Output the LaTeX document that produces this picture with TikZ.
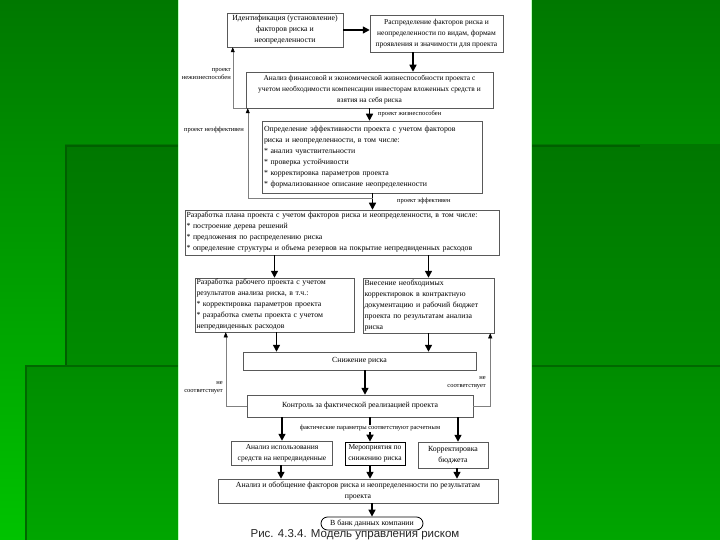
\documentclass[tikz,border=0pt]{standalone}
\usepackage{fontspec}
\setmainfont{Liberation Serif}
\newfontfamily\capfont{Liberation Sans}
\usetikzlibrary{arrows.meta}
\definecolor{bgdark}{RGB}{0,120,0}
\definecolor{bgmid}{RGB}{0,140,0}
\definecolor{bglight}{RGB}{0,195,0}
\definecolor{bgedge}{RGB}{0,95,0}
\begin{document}
\begin{tikzpicture}[x=1pt,y=-1pt,
		box/.style={draw=gray!70!black,line width=.5pt,inner xsep=1.5pt,inner ysep=1pt,font=\fontsize{7.8}{11}\selectfont},
		flow/.style={-{Triangle[length=7pt,width=7pt]},line width=1.5pt},
		back/.style={-{Triangle[length=5pt,width=4pt,color=black]},draw=gray,line width=.5pt},
		note/.style={font=\fontsize{6.5}{8}\selectfont,inner sep=1pt}]
	\useasboundingbox (0,0) rectangle (720,540);
	\shade[top color=bgdark,bottom color=bglight] (0,0) rectangle (720,540);
	\shade[top color=bgmid!85!black,bottom color=bglight!80!black] (65,145) rectangle (720,540);
	\draw[bgedge,line width=2pt] (66,540)--(66,146)--(640,146);
	\shade[top color=bgmid,bottom color=bglight!85!black] (25,365) rectangle (720,540);
	\draw[bgedge!80!bgmid,line width=1.5pt] (26,540)--(26,366)--(720,366);
	\fill[white] (178,0) rectangle (532,540);
	\draw[green!25!white,line width=1.5pt] (178.5,0)--(178.5,540) (531.5,0)--(531.5,540);

	\node[box,minimum width=116pt,minimum height=34pt,align=center] (ident) at (285,30) {Идентификация (установление)\\факторов риска и\\неопределенности};
	\node[box,minimum width=133pt,minimum height=37pt,align=center,font=\fontsize{7.5}{11}\selectfont] (distr) at (436.5,33.5) {Распределение факторов риска и\\неопределенности по видам, формам\\проявления и значимости для проекта};
	\node[box,minimum width=247pt,minimum height=36pt,align=center,font=\fontsize{7.4}{11}\selectfont] (viab) at (369.5,90) {Анализ финансовой и экономической жизнеспособности проекта с\\учетом необходимости компенсации инвесторам вложенных средств и\\взятия на себя риска};
	\node[box,text width=217pt,minimum height=72pt,align=left] (effic) at (372.5,157) {Определение эффективности проекта с учетом факторов\\риска и неопределенности, в том числе:\\{}* анализ чувствительности\\{}* проверка устойчивости\\{}* корректировка параметров проекта\\{}* формализованное описание неопределенности};
	\node[box,text width=311pt,minimum height=45pt,align=left] (plan) at (342,232.5) {Разработка плана проекта с учетом факторов риска и неопределенности, в том числе:\\{}* построение дерева решений\\{}* предложения по распределению риска\\{}* определение структуры и объема резервов на покрытие непредвиденных расходов};
	\node[box,text width=156pt,minimum height=54pt,align=left] (work) at (274.5,305) {Разработка рабочего проекта с учетом\\результатов анализа риска, в т.ч.:\\{}* корректировка параметров проекта\\{}* разработка сметы проекта с учетом\\непредвиденных расходов};
	\node[box,text width=128pt,minimum height=55pt,align=left] (contr) at (428.5,305.5) {Внесение необходимых\\корректировок в контрактную\\документацию и рабочий бюджет\\проекта по результатам анализа\\риска};
	\node[box,minimum width=233pt,minimum height=18pt,align=center] (reduce) at (359.5,361) {Снижение риска};
	\node[box,minimum width=226pt,minimum height=22pt,align=center] (monitor) at (360,406) {Контроль за фактической реализацией проекта};
	\node[box,minimum width=101pt,minimum height=24pt,align=center,font=\fontsize{7.5}{11}\selectfont] (reserve) at (282,453) {Анализ использования\\средств на непредвиденные};
	\node[box,draw=black,line width=.7pt,minimum width=60pt,minimum height=23pt,align=center,inner xsep=.5pt,font=\fontsize{7.5}{11}\selectfont] (measure) at (375,453.5) {Мероприятия по\\снижению риска};
	\node[box,minimum width=70pt,minimum height=26pt,align=center] (budget) at (453,455) {Корректировка\\бюджета};
	\node[box,minimum width=280pt,minimum height=24pt,align=center] (summary) at (358,491) {Анализ и обобщение факторов риска и неопределенности по результатам\\проекта};
	\node[box,draw=black,line width=.8pt,rounded corners=6.5pt,minimum width=102pt,minimum height=13pt,align=center] (bank) at (372,523.5) {В банк данных компании};
	\node[font=\capfont\fontsize{11.5}{13}\selectfont,text=black!85,anchor=base,inner sep=0pt] (cap) at (355,537.5) {Рис. 4.3.4. Модель управления риском};

	\draw[flow] (ident.east)--(ident.east-|distr.west);
	\draw[flow] ([xshift=-23.5pt]distr.south)--([xshift=-23.5pt]distr.south|-viab.north);
	\draw[flow] (viab.south)--(viab.south|-effic.north);
	\draw[flow] (effic.south)--(effic.south|-plan.north);
	\draw[flow] (work.north|-plan.south)--(work.north);
	\draw[flow] (contr.north|-plan.south)--(contr.north);
	\draw[flow] ([xshift=2pt]work.south)--([xshift=2pt]work.south|-reduce.north);
	\draw[flow] (contr.south)--(contr.south|-reduce.north);
	\draw[flow] ([xshift=5.5pt]reduce.south)--([xshift=5.5pt]reduce.south|-monitor.north);
	\draw[flow] (reserve.north|-monitor.south)--(reserve.north);
	\draw[flow] ([xshift=-5pt]measure.north|-monitor.south)--([xshift=-5pt]measure.north)
		node[pos=.45,fill=white,note,inner sep=.5pt] (fits) {фактические параметры соответствуют расчетным};
	\draw[flow] ([xshift=5pt]budget.north|-monitor.south)--([xshift=5pt]budget.north);
	\draw[flow] ([xshift=-1pt]reserve.south)--([xshift=-1pt]reserve.south|-summary.north);
	\draw[flow] ([xshift=-5pt]measure.south)--([xshift=-5pt]measure.south|-summary.north);
	\draw[flow] ([xshift=4pt]budget.south)--([xshift=4pt]budget.south|-summary.north);
	\draw[flow] (bank.north|-summary.south)--(bank.north);

	\coordinate (nv) at ([xshift=-13pt]viab.south west);
	\draw[back] (viab.south west)--(nv)--(nv|-ident.south);
	\draw[back] ([yshift=-5pt]effic.south)-|([xshift=2pt]viab.south west);
	\draw[back] (monitor.west)-|([xshift=31pt]work.south west);
	\draw[back] (monitor.east)-|([xshift=-4pt]contr.south east);

	\node[note,align=right,anchor=east] (nvtext) at (232,74) {проект\\нежизнеспособен};
	\node[note,anchor=west] (vtext) at (377,114) {проект жизнеспособен};
	\node[note,anchor=east] (netext) at (245,130) {проект неэффективен};
	\node[note,anchor=west] (etext) at (396,201) {проект эффективен};
	\node[note,align=right,anchor=east] (nfl) at (224,388) {не\\соответствует};
	\node[note,align=right,anchor=east] (nfr) at (487,383) {не\\соответствует};
\end{tikzpicture}
\end{document}
